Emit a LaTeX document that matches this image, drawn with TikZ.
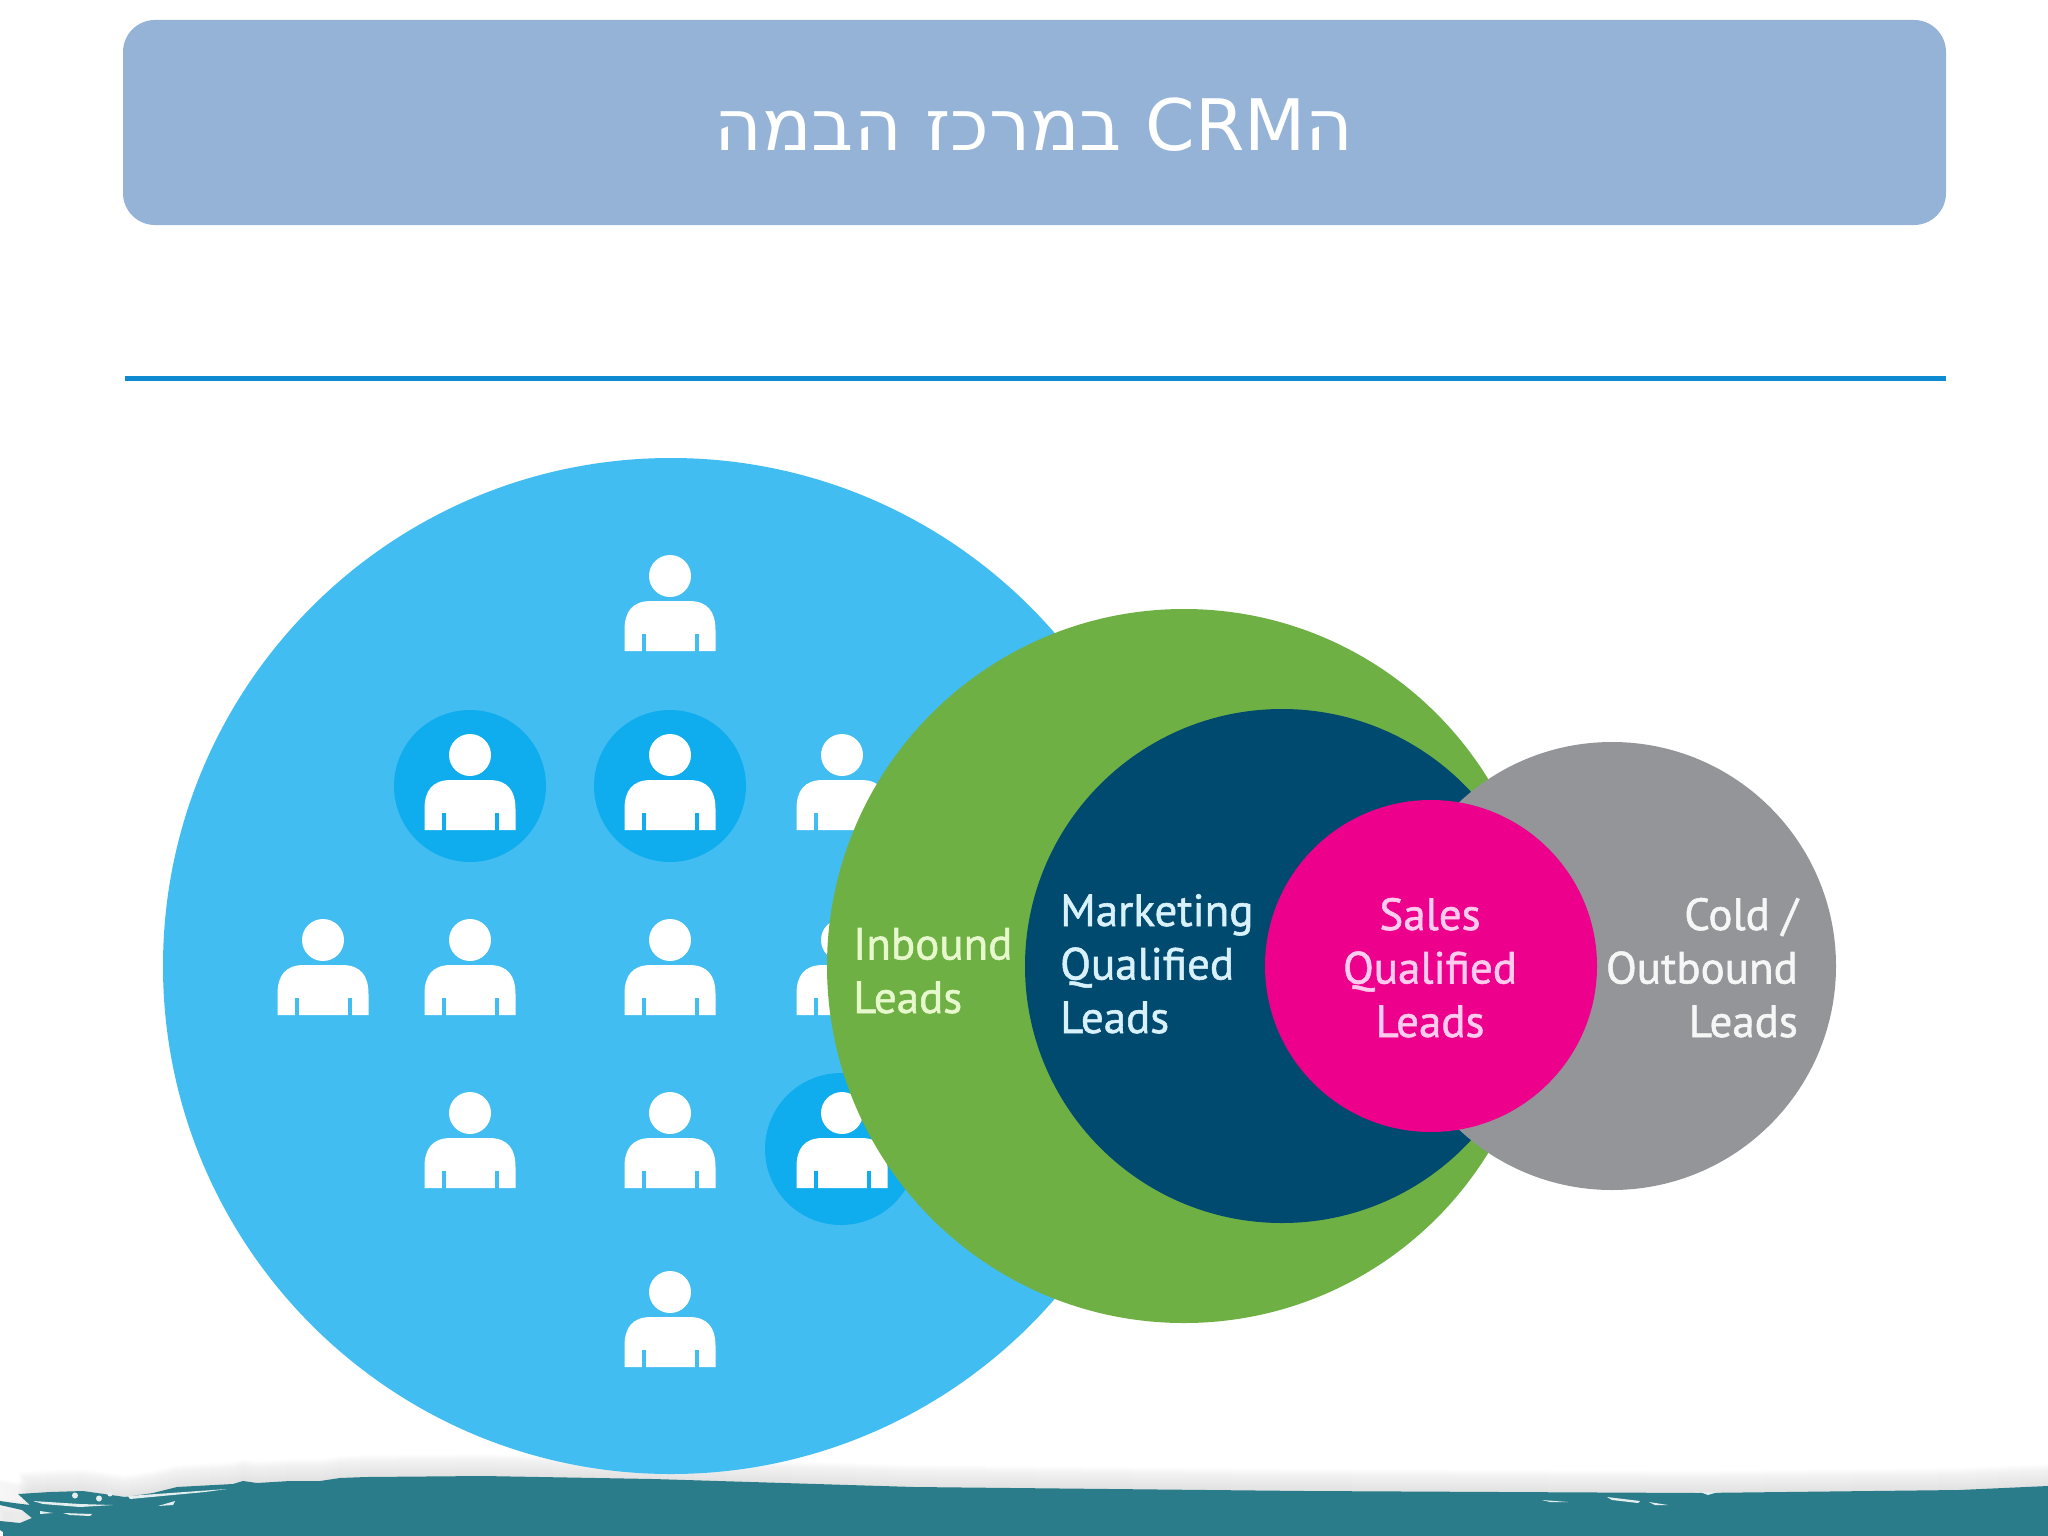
\documentclass[tikz,border=0pt]{standalone}
\usepackage{fontspec}
\TeXXeTstate=1
\newfontfamily\titlefont[Script=Hebrew,FakeStretch=1.03]{DejaVu Sans}
\newfontfamily\crmfont[FakeStretch=1.0]{DejaVu Sans}
\newfontfamily\dinfont[LetterSpace=0,FakeBold=1.2]{PT Sans}
\definecolor{bluebig}{HTML}{42BDF1}
\definecolor{bluedark}{HTML}{10ADEE}
\definecolor{leafgreen}{HTML}{6EB044}
\definecolor{navyc}{HTML}{004A70}
\definecolor{pinkc}{HTML}{EC008C}
\definecolor{grayc}{HTML}{939598}
\definecolor{titlebox}{HTML}{95B3D7}
\definecolor{rulec}{HTML}{0E8AD0}
\definecolor{tealband}{HTML}{2A7C8A}
\definecolor{inboundtext}{HTML}{E6F8CC}
\definecolor{mqltext}{HTML}{D8F1FA}
\definecolor{sqltext}{HTML}{FFCCEE}
\definecolor{coldtext}{HTML}{F6F6F6}
\definecolor{speck}{HTML}{E4EEEF}
\tikzset{
  x=1pt,y=-1pt,
  leadlabel/.style={inner sep=0pt,font=\dinfont\fontsize{45}{53.5}\selectfont},
  speckfill/.style={fill=speck,draw=none},
}
% person icon: #1 head x, #2 head y, #3 colour behind the slits
\newcommand{\personicon}[3]{%
  \fill[white] (#1,#2) circle[radius=21];
  \fill[white] (#1-45.5,#2+75) -- (#1-45.5,#2+54)
     .. controls (#1-45.5,#2+36) and (#1-38,#2+25) .. (#1-19,#2+25)
     -- (#1+19,#2+25)
     .. controls (#1+38,#2+25) and (#1+45.5,#2+36) .. (#1+45.5,#2+54)
     -- (#1+45.5,#2+75) -- cycle;
  \fill[#3] (#1-28,#2+58) rectangle (#1-24,#2+75.5);
  \fill[#3] (#1+25,#2+58) rectangle (#1+29,#2+75.5);
}
\newcommand{\bandpath}{(0,1501) -- (14,1503) -- (30,1505) -- (18,1494) -- (50,1492) -- (83,1491) -- (125,1497) -- (153,1493) -- (177,1487) -- (233,1484) -- (243,1481) -- (257,1483) -- (290,1481) -- (320,1481) -- (340,1478) -- (366,1477) -- (483,1476) -- (653,1479) -- (914,1487) -- (1306,1491) -- (1698,1493) -- (1959,1490) -- (2048,1486) -- (2048,1536) -- (3,1536) -- (3,1532) -- (0,1530) -- (0,1521) -- (20,1523) -- (32,1518) -- (22,1510) -- (0,1505) -- cycle}
\begin{document}
\begin{tikzpicture}
\useasboundingbox (0,0) rectangle (2048,1536);
\fill[white] (0,0) rectangle (2048,1536);
% header
\fill[titlebox,rounded corners=32] (123,20) rectangle (1946,225);
\node[inner sep=0pt,text=white,anchor=base] (title) at (1034,150)
  {\titlefont\fontsize{71}{80}\selectfont\beginR ה\beginL{\crmfont CRM}\endL{} במרכז הבמה\endR};
\fill[rulec] (125,375.5) rectangle (1946,380.5);
% band shadow
\foreach \i in {1,...,22}{
  \begin{scope}[yshift=\i pt]
    \fill[black!55,opacity=0.008] \bandpath;
  \end{scope}
}
% big circle
\fill[bluebig] (671,966) circle[radius=508];
\fill[bluedark] (470,786) circle[radius=76];
\fill[bluedark] (670,786) circle[radius=76];
\fill[bluedark] (841,1149) circle[radius=76];
\personicon{670}{576}{bluebig}
\personicon{470}{755}{bluedark}
\personicon{670}{755}{bluedark}
\personicon{842}{755}{bluebig}
\personicon{323}{940}{bluebig}
\personicon{470}{940}{bluebig}
\personicon{670}{940}{bluebig}
\personicon{842}{940}{bluebig}
\personicon{470}{1113}{bluebig}
\personicon{670}{1113}{bluebig}
\personicon{842}{1113}{bluedark}
\personicon{670}{1292}{bluebig}
% funnel circles
\fill[leafgreen] (1184,966) circle[radius=357];
\fill[navyc] (1282,966) circle[radius=257];
\fill[grayc] (1612,966) circle[radius=224];
\fill[pinkc] (1431,966) circle[radius=166];
% labels
\node[leadlabel,text=inboundtext,align=left,anchor=base west] (inbound) at (853,1013) {Inbound\\Leads};
\node[leadlabel,text=mqltext,align=left,anchor=base west] (mql) at (1060,1033) {Marketing\\Qualified\\Leads};
\node[leadlabel,text=sqltext,align=center,anchor=base] (sql) at (1430,1037) {Sales\\Qualified\\Leads};
\node[leadlabel,text=coldtext,align=right,anchor=base east] (cold) at (1798,1037) {Cold /\\Outbound\\Leads};
% band
\fill[tealband] \bandpath;
\fill[speckfill] (33,1501) -- (80,1504) -- (113,1505) -- (80,1507) -- (43,1504) -- cycle;
\fill[speckfill] (63,1513) -- (92,1514) -- (90,1516) -- (70,1515) -- cycle;
\fill[speckfill] (128,1496) -- (227,1489) -- (205,1492) -- (130,1499) -- cycle;
\fill[speckfill] (40,1511) -- (53,1513) -- (40,1514) -- cycle;
\fill[speckfill] (158,1506) -- (175,1501) -- (173,1505) -- cycle;
\fill[speckfill] (75,1495.5) circle[radius=3];
\fill[speckfill] (99,1498.5) circle[radius=3];
\fill[speckfill] (110,1494) circle[radius=2.5];
\fill[speckfill] (1542,1500) -- (1568,1502) -- (1550,1502) -- cycle;
\fill[speckfill] (1607,1497) -- (1640,1501) -- (1638,1503) -- (1612,1500) -- cycle;
\fill[speckfill] (1649,1502) -- (1668,1505) -- (1655,1505) -- cycle;
\fill[speckfill] (1700,1492) -- (1718,1492) -- (1708,1495) -- cycle;
\end{tikzpicture}
\end{document}
